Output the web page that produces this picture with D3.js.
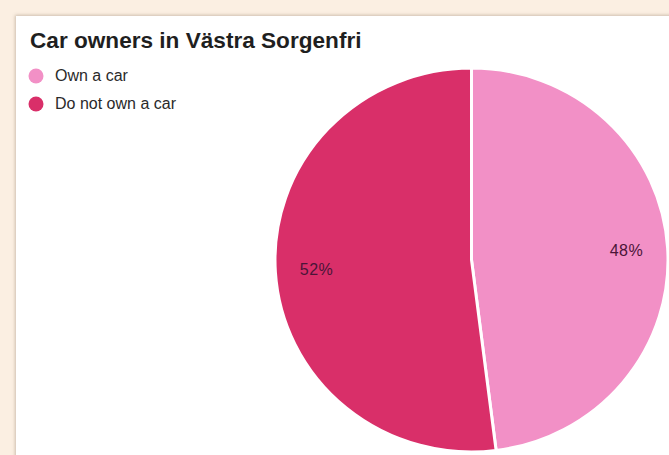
<!DOCTYPE html>
<html>
<head>
<meta charset="utf-8">
<script src="https://cdn.jsdelivr.net/npm/d3@7"></script>
<style>
  html, body { margin: 0; padding: 0; background: #fbefe2; }
  body { width: 669px; height: 455px; overflow: hidden; position: relative; }
  .card {
    position: absolute; left: 16px; top: 16px; width: 680px; height: 460px;
    background: #fff; box-shadow: -1px -1px 3px rgba(120, 100, 80, 0.35);
  }
  svg { position: absolute; left: 0; top: 0; }
</style>
</head>
<body>
<div class="card"></div>
<svg id="chart" width="669" height="455"></svg>
<script>
// Share of residents by car ownership
const title = "Car owners in Västra Sorgenfri";
const categories = ["Own a car", "Do not own a car"];
const shares = [48, 52];
const colors = ["#f290c6", "#d92f69"];

const svg = d3.select("#chart");
const cx = 471.5, cy = 260, radius = 196.5, yScale = 0.977;

svg.append("text")
  .attr("x", 30).attr("y", 48)
  .attr("font-family", "'Liberation Sans', Arial, sans-serif")
  .attr("font-weight", "bold").attr("font-size", 22.6)
  .attr("fill", "#1f1f1f")
  .text(title);

const color = d3.scaleOrdinal().domain(categories).range(colors);

// Legend
const legend = svg.append("g");
categories.forEach((c, i) => {
  const y = 76 + i * 28;
  legend.append("circle").attr("cx", 36).attr("cy", y).attr("r", 7.5).attr("fill", color(c));
  legend.append("text")
    .attr("x", 55).attr("y", y + 5)
    .attr("font-family", "'Liberation Sans', Arial, sans-serif")
    .attr("font-size", 16).attr("fill", "#2a2a2a")
    .text(c);
});

// Pie, clockwise from twelve o'clock
const data = categories.map((c, i) => ({ name: c, value: shares[i] }));
const pie = d3.pie().sort(null).value(d => d.value);
const arc = d3.arc().innerRadius(0).outerRadius(radius);
const labelArc = d3.arc().innerRadius(radius * 0.79).outerRadius(radius * 0.79);

const g = svg.append("g").attr("transform", `translate(${cx},${cy})`);
const arcs = pie(data);

g.append("g").attr("transform", `scale(1,${yScale})`)
  .selectAll("path").data(arcs).join("path")
  .attr("d", arc)
  .attr("fill", d => color(d.data.name))
  .attr("stroke", "#fff").attr("stroke-width", 3)
  .attr("vector-effect", "non-scaling-stroke");

g.selectAll("text").data(arcs).join("text")
  .attr("transform", d => {
    const [x, y] = labelArc.centroid(d);
    return `translate(${x},${y * yScale})`;
  })
  .attr("text-anchor", "middle").attr("dy", "0.35em")
  .attr("font-family", "'Liberation Sans', Arial, sans-serif")
  .attr("font-size", 16).attr("letter-spacing", 0.5).attr("fill", "#4a1538")
  .text(d => d.data.value + "%");
</script>
</body>
</html>
